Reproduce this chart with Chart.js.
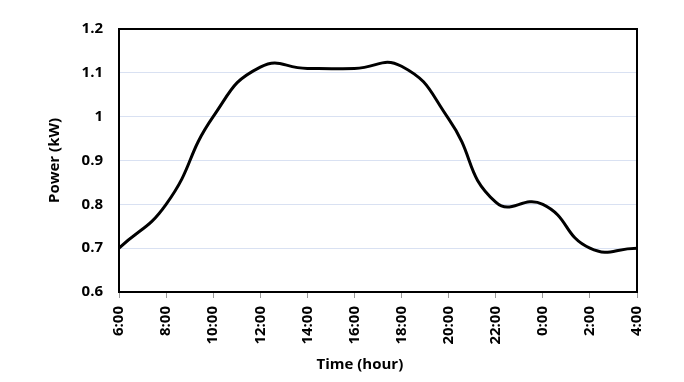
<!DOCTYPE html>
<html>
<head>
<meta charset="utf-8">
<script src="https://cdn.jsdelivr.net/npm/chart.js@4"></script>
<style>
  html, body { margin: 0; padding: 0; background: #fff; }
  #wrap { width: 684px; height: 382px; }
</style>
</head>
<body>
<div id="wrap"><canvas id="chart" width="684" height="382"></canvas></div>
<script>
const hours = ['6:00', '8:00', '10:00', '12:00', '14:00', '16:00', '18:00', '20:00', '22:00', '0:00', '2:00', '4:00'];
const power = [0.70, 0.80, 1.00, 1.113, 1.11, 1.11, 1.115, 0.995, 0.805, 0.80, 0.70, 0.70];
const yTicks = [0.6, 0.7, 0.8, 0.9, 1.0, 1.1, 1.2];
const xTitle = 'Time (hour)';

const font = { family: 'Open Sans', size: 15, weight: 'bold' };
const titleFont = { family: 'Open Sans', size: 15, weight: 'bold' };

// black frame round the plot area, plus the x title (sits a bit left of centre in the original)
const frame = {
    id: 'frame',
    afterDatasetsDraw(chart) {
        const { ctx, chartArea: a } = chart;
        ctx.save();
        ctx.strokeStyle = '#000';
        ctx.lineWidth = 2;
        ctx.strokeRect(a.left, a.top, a.right - a.left, a.bottom - a.top);
        ctx.fillStyle = '#000';
        ctx.font = `bold ${titleFont.size}px "${titleFont.family}"`;
        ctx.textAlign = 'center';
        ctx.textBaseline = 'middle';
        ctx.fillText(xTitle, a.left + (a.right - a.left) * 0.465, a.bottom + 73);
        ctx.restore();
    },
};

new Chart(document.getElementById('chart'), {
    type: 'line',
    data: {
        labels: hours,
        datasets: [{
            data: power,
            borderColor: '#000',
            borderWidth: 3,
            pointRadius: 0,
            tension: 0.5,
            fill: false,
        }],
    },
    options: {
        responsive: false,
        animation: false,
        layout: { padding: { top: 29, right: 47, left: 46, bottom: 0 } },
        plugins: { legend: { display: false }, tooltip: { enabled: false } },
        scales: {
            x: {
                offset: false,
                grid: { drawOnChartArea: false, drawTicks: true, tickLength: 6, color: '#999' },
                border: { display: false },
                ticks: { font, color: '#000', minRotation: 90, maxRotation: 90, padding: 8 },
                afterFit: s => { s.height = 90; },
            },
            y: {
                min: 0.6,
                max: 1.2,
                afterBuildTicks: s => { s.ticks = yTicks.map(v => ({ value: v })); },
                grid: { color: '#d9e1f2', drawTicks: false, lineWidth: 1 },
                border: { display: false },
                ticks: { font, color: '#000', padding: 16, callback: v => String(Math.round(v * 10) / 10) },
                title: { display: true, text: 'Power (kW)', font: titleFont, color: '#000', padding: { top: 0, bottom: 4 } },
                afterFit: s => { s.width = 73; },
            },
        },
    },
    plugins: [frame],
});
</script>
</body>
</html>
